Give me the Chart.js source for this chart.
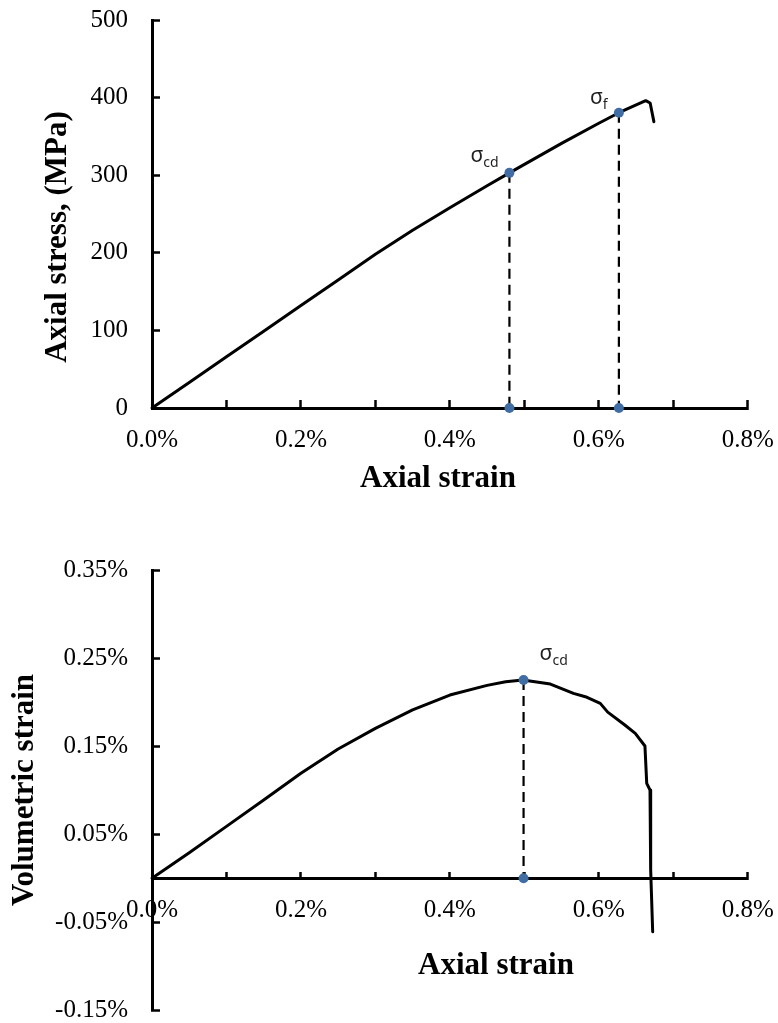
<!DOCTYPE html>
<html>
<head>
<meta charset="utf-8">
<script src="https://cdn.jsdelivr.net/npm/chart.js@4.4.0/dist/chart.umd.min.js"></script>
<style>
  html, body { margin: 0; padding: 0; background: #fff; overflow: hidden; }
  #stress-wrap { position: absolute; left: 0; top: 0; width: 778px; height: 512px; }
  #vol-wrap { position: absolute; left: 0; top: 520px; width: 778px; height: 510px; }
</style>
</head>
<body>
<div id="stress-wrap"><canvas id="stress-chart"></canvas></div>
<div id="vol-wrap"><canvas id="vol-chart"></canvas></div>
<script>
// axial strain (%) -> axial stress (MPa)
var stressStrain = [0, 0.05, 0.1, 0.15, 0.2, 0.25, 0.3, 0.35, 0.4, 0.45, 0.48, 0.55, 0.6, 0.627, 0.663, 0.669, 0.674];
var stressValues = [0, 33, 66, 99, 132, 165, 198, 229, 258, 286.5, 303, 341, 367, 380.5, 396, 393, 369];

// sigma_cd and sigma_f on the stress curve
var stressMarkStrain = [0.48, 0.627];
var stressMarkValues = [303, 380.5];
var stressMarkNames = ['cd', 'f'];

// axial strain (%) -> volumetric strain (%)
var volAxialStrain = [0, 0.05, 0.1, 0.15, 0.2, 0.25, 0.3, 0.35, 0.4, 0.45, 0.475, 0.498, 0.535, 0.566, 0.582, 0.602, 0.612, 0.635, 0.649, 0.662, 0.6644, 0.6688, 0.6697, 0.6724];
var volStrainValues = [0, 0.029, 0.059, 0.089, 0.1194, 0.147, 0.1705, 0.1915, 0.2085, 0.2195, 0.2235, 0.2256, 0.221, 0.2104, 0.2066, 0.199, 0.189, 0.1744, 0.1649, 0.1505, 0.108, 0.1004, 0.0093, -0.0609];

var volMarkStrain = [0.499];
var volMarkValues = [0.2256];
var volMarkNames = ['cd'];

// tick values
var strainTicks = [0, 0.1, 0.2, 0.3, 0.4, 0.5, 0.6, 0.7, 0.8];
var stressTicks = [0, 100, 200, 300, 400, 500];
var volTicks = [-0.15, -0.05, 0.05, 0.15, 0.25, 0.35];

var serif = '"Liberation Serif", "Times New Roman", serif';
var sans = '"Noto Sans", "Liberation Sans", sans-serif';
var markColor = '#3f6da4';

function toPoints(xs, ys) {
  var pts = [];
  for (var i = 0; i < xs.length; i++) pts.push({x: xs[i], y: ys[i]});
  return pts;
}

function markDots(xs, ys) {
  var pts = [];
  for (var i = 0; i < xs.length; i++) {
    pts.push({x: xs[i], y: ys[i]});
    pts.push({x: xs[i], y: 0});
  }
  return {
    data: pts,
    showLine: false,
    clip: false,
    pointRadius: 5,
    pointBackgroundColor: markColor,
    pointBorderColor: markColor,
    pointBorderWidth: 0
  };
}

function dropLines(xs, ys) {
  var sets = [];
  for (var i = 0; i < xs.length; i++) {
    sets.push({
      data: [{x: xs[i], y: ys[i]}, {x: xs[i], y: 0}],
      borderColor: '#000',
      borderWidth: 2.2,
      borderDash: [10, 6],
      pointRadius: 0
    });
  }
  return sets;
}

function curve(xs, ys) {
  return {
    data: toPoints(xs, ys),
    borderColor: '#000',
    borderWidth: 3,
    borderJoinStyle: 'round',
    borderCapStyle: 'round',
    clip: false,
    tension: 0,
    pointRadius: 0
  };
}

function fixedTicks(values) {
  return function(scale) {
    scale.ticks = values.map(function(v) { return {value: v}; });
  };
}

// fixed axis size, and no extra label padding pushed into the layout
function fixSize(width, height) {
  return function(s) {
    if (width !== null) s.width = width;
    if (height !== null) s.height = height;
    s.paddingTop = 0;
    s.paddingBottom = 0;
    s.paddingLeft = 0;
    s.paddingRight = 0;
  };
}

function axisBase() {
  return {
    type: 'linear',
    border: {display: true, color: '#000', width: 3},
    grid: {drawOnChartArea: false, drawTicks: true, tickLength: -8, tickWidth: 2.5, tickColor: '#000'}
  };
}

function strainAxis(extra) {
  var a = axisBase();
  a.min = 0;
  a.max = 0.8;
  a.afterBuildTicks = fixedTicks(strainTicks);
  a.ticks = {
    autoSkip: false, minRotation: 0, maxRotation: 0, padding: 25, color: '#000',
    font: {family: serif, size: 25},
    callback: function(v) { return Math.round(v * 10) % 2 === 0 ? v.toFixed(1) + '%' : ''; }
  };
  for (var k in extra) a[k] = extra[k];
  return a;
}

// axis titles and sigma labels
var annotatePlugin = {
  id: 'annotate',
  afterDatasetsDraw: function(chart, args, opts) {
    var ctx = chart.ctx;
    ctx.save();
    ctx.fillStyle = '#000';
    ctx.font = 'bold 31px ' + serif;
    ctx.textAlign = 'center';
    ctx.textBaseline = 'middle';
    ctx.fillText(opts.xTitle, opts.xTitleAt[0], opts.xTitleAt[1]);
    ctx.translate(opts.yTitleAt[0], opts.yTitleAt[1]);
    ctx.rotate(-Math.PI / 2);
    ctx.fillText(opts.yTitle, 0, 0);
    ctx.restore();

    var xs = chart.scales.x, ys = chart.scales.y;
    ctx.save();
    ctx.fillStyle = '#1f1f1f';
    ctx.textAlign = 'left';
    ctx.textBaseline = 'alphabetic';
    for (var i = 0; i < opts.markX.length; i++) {
      var px = xs.getPixelForValue(opts.markX[i]);
      var py = ys.getPixelForValue(opts.markY[i]);
      var off = opts.offsets[i];
      ctx.font = '21px ' + sans;
      ctx.fillText('\u03c3', px + off[0], py + off[1]);
      var w = ctx.measureText('\u03c3').width;
      ctx.font = '14px ' + sans;
      ctx.fillText(opts.names[i], px + off[0] + w, py + off[1] + 5);
    }
    ctx.restore();
  }
};

var stressSets = [markDots(stressMarkStrain, stressMarkValues)]
  .concat(dropLines(stressMarkStrain, stressMarkValues))
  .concat([curve(stressStrain, stressValues)]);

var stressY = axisBase();
stressY.min = 0;
stressY.max = 500;
stressY.afterBuildTicks = fixedTicks(stressTicks);
stressY.afterFit = fixSize(152, null);
stressY.ticks = {padding: 32, color: '#000', font: {family: serif, size: 25}, callback: function(v) { return String(v); }};

new Chart(document.getElementById('stress-chart'), {
  type: 'line',
  data: {datasets: stressSets},
  options: {
    responsive: true,
    maintainAspectRatio: false,
    animation: false,
    events: [],
    devicePixelRatio: 1,
    layout: {padding: {left: 0, top: 20, right: 30.3, bottom: 0}},
    scales: {
      x: strainAxis({position: 'bottom', afterFit: fixSize(null, 104)}),
      y: stressY
    },
    plugins: {
      legend: {display: false},
      tooltip: {enabled: false},
      annotate: {
        xTitle: 'Axial strain', xTitleAt: [438, 479],
        yTitle: 'Axial stress, (MPa)', yTitleAt: [58, 237],
        markX: stressMarkStrain, markY: stressMarkValues, names: stressMarkNames,
        offsets: [[-39, -11], [-29, -9]]
      }
    }
  },
  plugins: [annotatePlugin]
});

var volSets = [markDots(volMarkStrain, volMarkValues)]
  .concat(dropLines(volMarkStrain, volMarkValues))
  .concat([curve(volAxialStrain, volStrainValues)]);

var volY = axisBase();
volY.min = -0.15;
volY.max = 0.35;
volY.afterBuildTicks = fixedTicks(volTicks);
volY.afterFit = fixSize(152, null);
volY.ticks = {padding: 32, color: '#000', font: {family: serif, size: 25}, callback: function(v) { return v.toFixed(2) + '%'; }};

new Chart(document.getElementById('vol-chart'), {
  type: 'line',
  data: {datasets: volSets},
  options: {
    responsive: true,
    maintainAspectRatio: false,
    animation: false,
    events: [],
    devicePixelRatio: 1,
    layout: {padding: {left: 0, top: 50.7, right: 30.3, bottom: 20}},
    scales: {
      x: strainAxis({position: {y: 0}, afterFit: fixSize(null, null)}),
      y: volY
    },
    plugins: {
      legend: {display: false},
      tooltip: {enabled: false},
      annotate: {
        xTitle: 'Axial strain', xTitleAt: [496, 446],
        yTitle: 'Volumetric strain', yTitleAt: [24.5, 270],
        markX: volMarkStrain, markY: volMarkValues, names: volMarkNames,
        offsets: [[16, -20]]
      }
    }
  },
  plugins: [annotatePlugin]
});
</script>
</body>
</html>
